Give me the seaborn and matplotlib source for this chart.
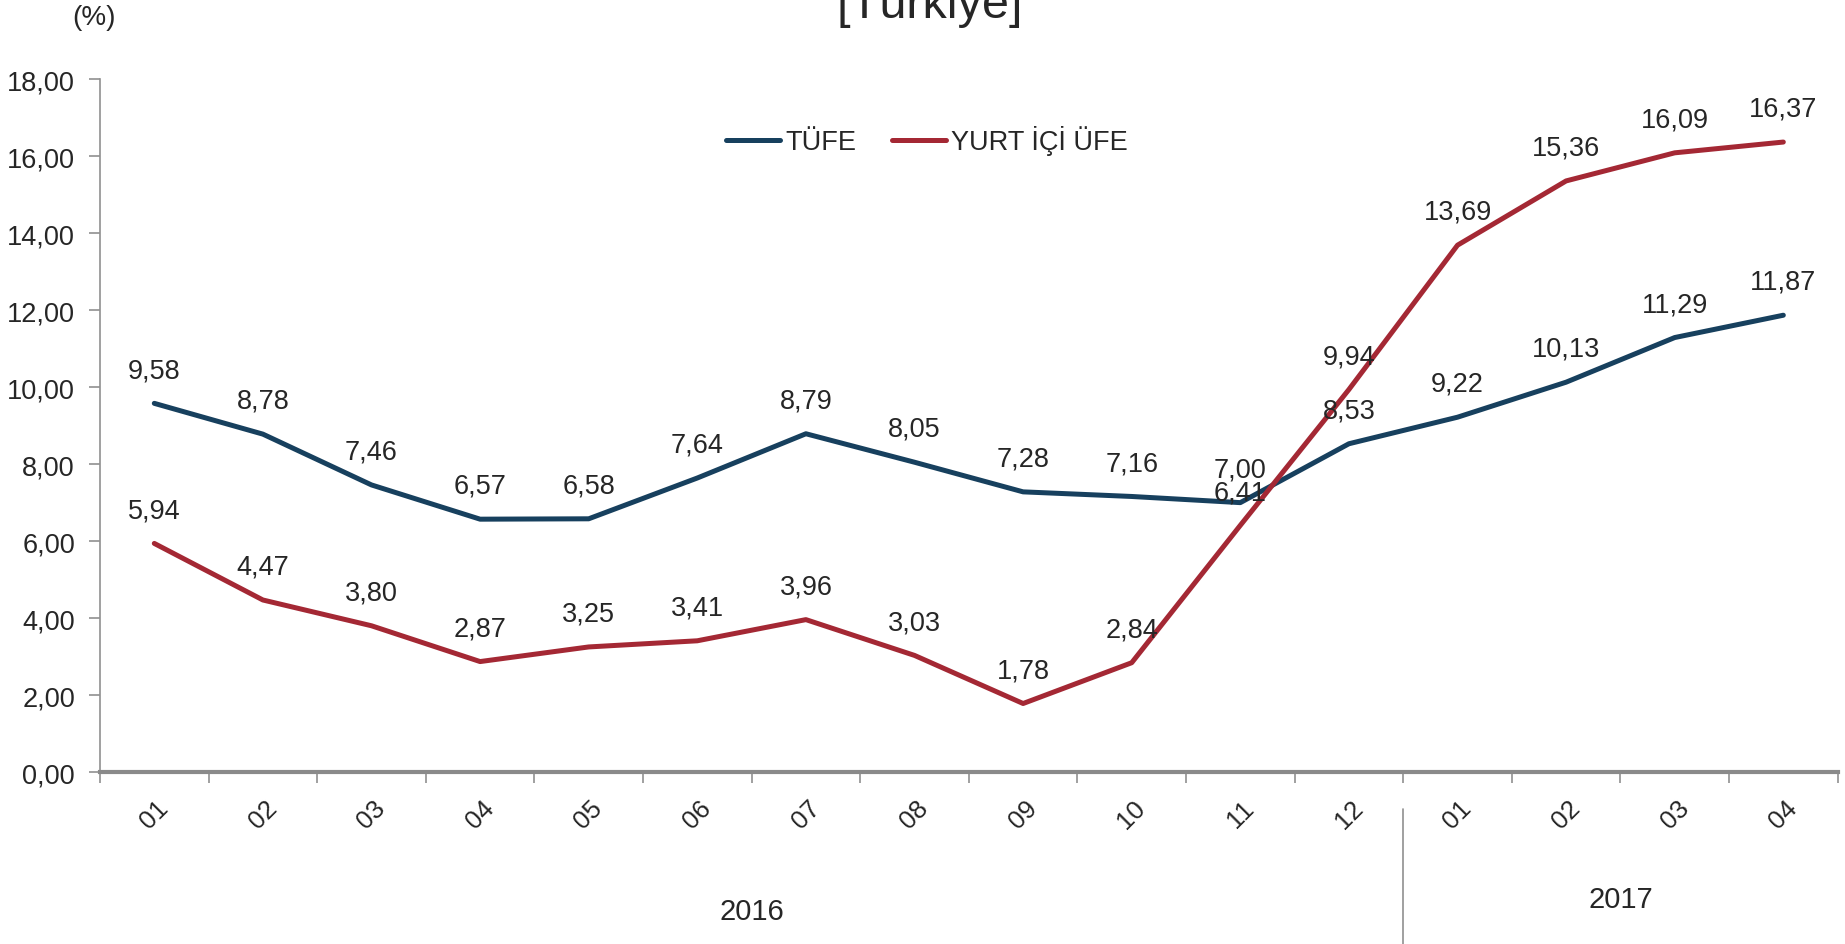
import numpy as np
import pandas as pd
import matplotlib
matplotlib.use("Agg")
import matplotlib.pyplot as plt
import matplotlib.transforms as mtransforms
import seaborn as sns

sns.set_style("white")
plt.rcParams['font.family'] = ['Liberation Sans', 'DejaVu Sans']

# data
months = ['01', '02', '03', '04', '05', '06', '07', '08', '09', '10', '11', '12',
          '01', '02', '03', '04']
years = ['2016', '2017']
year_counts = [12, 4]
tufe = [9.58, 8.78, 7.46, 6.57, 6.58, 7.64, 8.79, 8.05, 7.28, 7.16, 7.00, 8.53,
        9.22, 10.13, 11.29, 11.87]
ufe = [5.94, 4.47, 3.80, 2.87, 3.25, 3.41, 3.96, 3.03, 1.78, 2.84, 6.41, 9.94,
       13.69, 15.36, 16.09, 16.37]

c_tufe = '#17405E'
c_ufe = '#A42834'

df = pd.DataFrame({'pos': np.arange(len(months)), 'TÜFE': tufe, 'YURT İÇİ ÜFE': ufe})

fig = plt.figure(figsize=(18.45, 9.45), dpi=100)
ax = fig.add_axes([0.0542, 0.182, 0.9418, 0.733])

sns.lineplot(data=df, x='pos', y='TÜFE', color=c_tufe, lw=3.6, ax=ax, label='TÜFE')
sns.lineplot(data=df, x='pos', y='YURT İÇİ ÜFE', color=c_ufe, lw=3.6, ax=ax,
             label='YURT İÇİ ÜFE')

fmt = lambda v: f"{v:.2f}".replace('.', ',')
for i in range(len(months)):
    ax.annotate(fmt(tufe[i]), (i, tufe[i]), xytext=(0, 24), textcoords='offset points',
                ha='center', va='center', fontsize=19.5)
    ax.annotate(fmt(ufe[i]), (i, ufe[i]), xytext=(0, 24), textcoords='offset points',
                ha='center', va='center', fontsize=19.5)

ax.set_xlim(-0.5, len(months) - 0.5)
ax.set_ylim(0, 18)
yt = np.arange(0, 18.01, 2)
ax.set_yticks(yt)
ax.set_yticklabels([fmt(v) for v in yt], fontsize=19.5)
ax.set_xticks(np.arange(len(months)))
ax.set_xticklabels(months, rotation=45, fontsize=18.5, ha='center', va='center')
ax.set_xticks(np.arange(-0.5, len(months)), minor=True)
ax.tick_params(axis='x', which='major', length=0, pad=30)
ax.tick_params(axis='x', which='minor', length=8, color='#909090', width=1.2,
               direction='out', bottom=True)
ax.tick_params(axis='y', length=8, color='#909090', width=1.2, direction='out', left=True, pad=10)
ax.set_xlabel('')
ax.set_ylabel('')

for s in ['top', 'right']:
    ax.spines[s].set_visible(False)
ax.spines['left'].set_color('#909090')
ax.spines['left'].set_linewidth(1.2)
ax.spines['bottom'].set_color('#8a8a8a')
ax.spines['bottom'].set_linewidth(3)

leg = ax.legend(loc='center', bbox_to_anchor=(0.476, 0.912), ncol=2, frameon=False,
                fontsize=19.5, handlelength=2.0, handletextpad=0.2, columnspacing=1.3)

# year group labels and separator
trans = mtransforms.blended_transform_factory(ax.transData, fig.transFigure)
start = 0
for y, n in zip(years, year_counts):
    mid = start + (n - 1) / 2
    yy = 1 - 912 / 945 if y == years[0] else 1 - 900 / 945
    ax.text(mid, yy, y, transform=trans, ha='center', va='center', fontsize=21)
    start += n
ax.plot([11.5, 11.5], [1 - 810 / 945, 0], transform=trans, color='#909090', lw=1.2,
        clip_on=False)

fig.text(0.504, 1 - 18 / 945, '[Türkiye]', ha='center', va='baseline', fontsize=35)
fig.text(0.051, 1 - 18 / 945, '(%)', ha='center', va='center', fontsize=20)

fig.savefig('out.png', dpi=100)
